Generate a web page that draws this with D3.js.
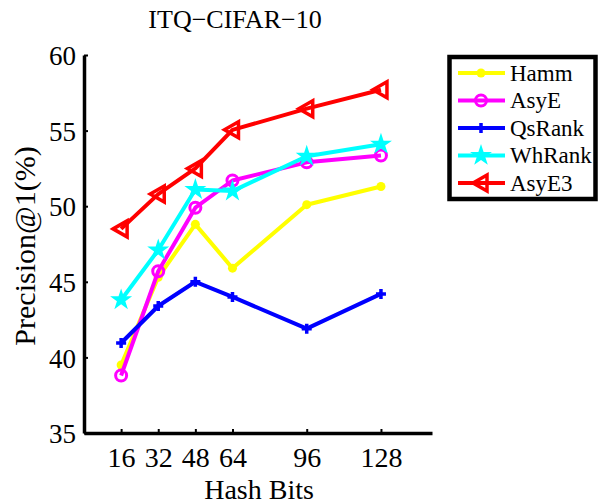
<!DOCTYPE html>
<html>
<head>
<meta charset="utf-8">
<script src="https://cdn.jsdelivr.net/npm/d3@7"></script>
<style>
  body { margin: 0; background: #fff; }
  text { font-family: "Liberation Serif", "Times New Roman", serif; fill: #000; }
</style>
</head>
<body>
<div id="chart"></div>
<script>
// Data
const bits = [16, 32, 48, 64, 96, 128];
const hamm   = [39.5, 45.3, 48.8, 45.9, 50.1, 51.3];
const asyE   = [38.8, 45.7, 49.9, 51.7, 52.9, 53.35];
const qsRank = [40.95, 43.4, 45.0, 44.0, 41.9, 44.2];
const whRank = [43.8, 47.1, 51.1, 51.0, 53.3, 54.1];
const asyE3  = [48.5, 50.8, 52.5, 55.05, 56.45, 57.7];
const yTicks = [35, 40, 45, 50, 55, 60];

const series = [
    { name: "Hamm",   values: hamm,   color: "#ffff00", marker: "dot" },
    { name: "AsyE",   values: asyE,   color: "#ff00ff", marker: "circle" },
    { name: "QsRank", values: qsRank, color: "#0000ff", marker: "plus" },
    { name: "WhRank", values: whRank, color: "#00ffff", marker: "star" },
    { name: "AsyE3",  values: asyE3,  color: "#ff0000", marker: "tri" }
];

const width = 599, height = 504;
const svg = d3.select("#chart").append("svg")
    .attr("width", width)
    .attr("height", height);

// Scales
const x = d3.scaleLinear().domain([0, 150]).range([84, 432]);
const y = d3.scaleLinear().domain([35, 60]).range([433, 55]);

// Axes (left & bottom only, ticks inward)
const xAxis = svg.append("g")
    .attr("transform", `translate(0,${y(35)})`)
    .call(d3.axisBottom(x).tickValues(bits).tickSizeInner(-4).tickSizeOuter(0).tickPadding(14));
const yAxis = svg.append("g")
    .attr("transform", `translate(${x(0)},0)`)
    .call(d3.axisLeft(y).tickValues(yTicks).tickSizeInner(-4).tickSizeOuter(0).tickPadding(8));

[xAxis, yAxis].forEach(g => {
    g.select(".domain").attr("stroke", "#000").attr("stroke-width", 3.5);
    g.selectAll(".tick line").attr("stroke", "#000").attr("stroke-width", 2);
    g.selectAll(".tick text").attr("fill", "#000");
});
xAxis.selectAll(".tick text").attr("font-size", 28).attr("dy", "0.71em");
yAxis.selectAll(".tick text").attr("font-size", 27).attr("dy", "0.36em");

// Marker drawing
function drawMarker(g, type, color) {
    if (type === "dot") {
        g.append("circle").attr("r", 4.5).attr("fill", color);
    } else if (type === "circle") {
        g.append("circle").attr("r", 5.5).attr("fill", "none")
            .attr("stroke", color).attr("stroke-width", 3);
    } else if (type === "plus") {
        g.append("path").attr("d", "M-5,0H5M0,-5V5")
            .attr("stroke", color).attr("stroke-width", 3.5);
    } else if (type === "star") {
        g.append("path").attr("d", d3.symbol(d3.symbolStar, 150)())
            .attr("fill", color);
    } else if (type === "tri") {
        g.append("path").attr("d", "M-8,0L6,-8L6,8Z")
            .attr("fill", "none").attr("stroke", color)
            .attr("stroke-width", 3.5).attr("stroke-linejoin", "miter");
    }
}

const line = d3.line()
    .x((d, i) => x(bits[i]))
    .y(d => y(d));

series.forEach(s => {
    svg.append("path")
        .datum(s.values)
        .attr("fill", "none")
        .attr("stroke", s.color)
        .attr("stroke-width", 4)
        .attr("stroke-linejoin", "round")
        .attr("d", line);
    s.values.forEach((v, i) => {
        const g = svg.append("g").attr("transform", `translate(${x(bits[i])},${y(v)})`);
        drawMarker(g, s.marker, s.color);
    });
});

// Title
svg.append("text")
    .attr("x", 235).attr("y", 28)
    .attr("text-anchor", "middle")
    .attr("font-size", 26)
    .text("ITQ\u2212CIFAR\u221210");

// Axis labels
svg.append("text")
    .attr("x", 259).attr("y", 499)
    .attr("text-anchor", "middle")
    .attr("font-size", 28)
    .text("Hash Bits");

svg.append("text")
    .attr("transform", "translate(35,246) rotate(-90)")
    .attr("text-anchor", "middle")
    .attr("font-size", 30)
    .text("Precision@1(%)");

// Legend
const legend = svg.append("g");
legend.append("rect")
    .attr("x", 449.5).attr("y", 57)
    .attr("width", 146).attr("height", 142)
    .attr("fill", "#fff").attr("stroke", "#000").attr("stroke-width", 4.5);

const legendY = d3.scalePoint()
    .domain(series.map(s => s.name))
    .range([73, 183]);

series.forEach(s => {
    const ly = legendY(s.name);
    legend.append("line")
        .attr("x1", 458).attr("x2", 505)
        .attr("y1", ly).attr("y2", ly)
        .attr("stroke", s.color).attr("stroke-width", 4);
    drawMarker(legend.append("g").attr("transform", `translate(481,${ly})`), s.marker, s.color);
    legend.append("text")
        .attr("x", 510).attr("y", ly)
        .attr("dy", "0.33em")
        .attr("font-size", 23)
        .text(s.name);
});
</script>
</body>
</html>
